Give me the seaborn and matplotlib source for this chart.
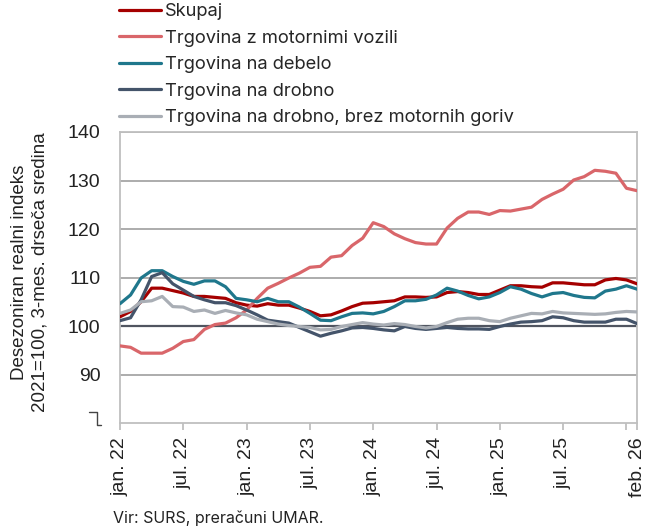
import numpy as np
import pandas as pd
import matplotlib
matplotlib.use('Agg')
import matplotlib.pyplot as plt
from matplotlib.lines import Line2D
import seaborn as sns

sns.set_style("white")
plt.rcParams['font.family'] = ['Liberation Sans', 'DejaVu Sans']

# monthly, jan 2022 .. feb 2026
months = pd.date_range("2022-01-01", "2026-02-01", freq="MS")

skupaj = [101.9, 103.0, 105.0, 107.8, 107.8, 107.3, 106.8, 106.1, 106.1, 105.9,
          105.7, 104.8, 104.3, 104.1, 104.6, 104.3, 104.3, 103.7, 103.0, 102.1,
          102.3, 103.1, 104.0, 104.7, 104.8, 105.0, 105.2, 106.0, 106.0, 105.9,
          106.0, 106.9, 107.1, 106.9, 106.5, 106.5, 107.4, 108.3, 108.3, 108.1,
          108.0, 108.9, 108.9, 108.7, 108.5, 108.5, 109.5, 109.8, 109.5, 108.7]
motorna = [95.9, 95.6, 94.4, 94.4, 94.4, 95.4, 96.8, 97.2, 99.3, 100.3,
           100.6, 101.7, 103.3, 105.7, 107.8, 108.8, 109.9, 110.9, 112.1, 112.3,
           114.2, 114.5, 116.6, 118.1, 121.3, 120.5, 119.0, 118.0, 117.2, 116.9,
           116.9, 120.2, 122.2, 123.5, 123.5, 123.0, 123.8, 123.7, 124.1, 124.5,
           126.1, 127.2, 128.2, 130.1, 130.8, 132.1, 131.9, 131.5, 128.4, 127.9]
debelo = [104.6, 106.4, 109.9, 111.4, 111.4, 110.2, 109.2, 108.6, 109.3, 109.3,
          108.1, 105.7, 105.4, 105.0, 105.7, 105.0, 105.0, 103.9, 102.6, 101.2,
          101.1, 101.9, 102.6, 102.7, 102.5, 103.0, 104.0, 105.2, 105.2, 105.5,
          106.4, 107.8, 107.2, 106.3, 105.6, 106.0, 106.9, 108.1, 107.6, 106.7,
          106.0, 106.7, 106.9, 106.3, 105.9, 105.8, 107.2, 107.6, 108.3, 107.6]
drobno = [101.1, 101.7, 105.4, 110.2, 111.0, 108.7, 107.4, 106.1, 105.4, 104.8,
          104.8, 104.2, 103.3, 102.3, 101.2, 100.9, 100.6, 99.7, 98.8, 97.9,
          98.5, 99.0, 99.6, 99.7, 99.5, 99.2, 99.0, 99.9, 99.5, 99.3,
          99.5, 99.7, 99.5, 99.4, 99.4, 99.3, 99.9, 100.4, 100.8, 100.9,
          101.1, 101.9, 101.7, 101.1, 100.8, 100.8, 100.8, 101.4, 101.4, 100.5]
drobno_brez = [102.6, 103.3, 105.0, 105.2, 106.1, 104.0, 103.9, 103.0, 103.3, 102.6,
               103.2, 102.7, 102.3, 101.4, 100.9, 100.4, 100.1, 99.9, 99.7, 99.2,
               99.3, 99.9, 100.3, 100.7, 100.4, 100.2, 100.5, 100.3, 99.9, 99.6,
               99.9, 100.7, 101.4, 101.6, 101.6, 101.1, 100.9, 101.6, 102.1, 102.6,
               102.5, 103.0, 102.7, 102.6, 102.5, 102.4, 102.5, 102.8, 103.0, 102.9]

names = ["Skupaj", "Trgovina z motornimi vozili", "Trgovina na debelo",
         "Trgovina na drobno", "Trgovina na drobno, brez motornih goriv"]
colors = ["#A50000", "#D9666A", "#1F778C", "#44546A", "#A9AEB5"]

tick_pos = [0, 6, 12, 18, 24, 30, 36, 42, 48, 49]
tick_labels = ["jan. 22", "jul. 22", "jan. 23", "jul. 23", "jan. 24",
               "jul. 24", "jan. 25", "jul. 25", "", "feb. 26"]

df = pd.DataFrame({"x": np.arange(len(months)),
                   names[0]: skupaj, names[1]: motorna, names[2]: debelo,
                   names[3]: drobno, names[4]: drobno_brez})
long = df.melt(id_vars="x", var_name="serija", value_name="vrednost")

W, H = 650, 531
fig = plt.figure(figsize=(W / 100, H / 100), dpi=100)
ax = fig.add_axes([120/W, 1 - 423/H, (637 - 120)/W, (423 - 132)/H])

# grid lines
for yv in [90, 110, 120, 130, 140]:
    ax.axhline(yv, color="#A6A6A6", lw=1.3, zorder=1)
ax.axhline(100, color="#505560", lw=1.6, zorder=1)

sns.lineplot(data=long, x="x", y="vrednost", hue="serija", hue_order=names,
             palette=colors, linewidth=2.3, legend=False, ax=ax, zorder=3)

ax.set_xlim(0, 49)
ax.set_ylim(80, 140)
ax.set_yticks([90, 100, 110, 120, 130, 140])
ax.set_xticks(tick_pos)
ax.set_xticklabels(tick_labels, rotation=90)
ax.set_xlabel("")
ax.set_ylabel("")
ax.tick_params(axis='y', length=0, pad=14, labelsize=14, labelcolor="#222222")
ax.tick_params(axis='x', length=5, width=1.3, color="#BFBFBF", pad=5,
               labelsize=14, labelcolor="#222222", bottom=True)
for s in ax.spines.values():
    s.set_color("#BFBFBF")
    s.set_linewidth(1.3)

# axis break mark below the 90 label
bx = np.array([89, 97, 97, 101]) / W
by = 1 - np.array([412, 412, 425, 425]) / H
fig.add_artist(Line2D(bx, by, transform=fig.transFigure, color="#444444", lw=1))

fig.text(30/W, 1 - 272/H,
         "Desezoniran realni indeks\n2021=100, 3-mes. drseča sredina",
         rotation=90, ha="center", va="center", multialignment="center",
         fontsize=13.5, color="#222222", linespacing=1.25)

handles = [Line2D([0], [0], color=c, lw=2.3) for c in colors]
fig.legend(handles, names, loc="upper left", bbox_to_anchor=(119/W, 1 - 3/H),
           frameon=False, handlelength=2.3, handletextpad=0.2,
           labelspacing=0.52, borderpad=0, borderaxespad=0,
           prop={"family": ["Inter", "DejaVu Sans"], "size": 13.2})

fig.text(113/W, 1 - 518/H, "Vir: SURS, preračuni UMAR.", ha="left", va="center",
         fontsize=11.5, color="#222222", family=["Inter", "DejaVu Sans"])

fig.savefig("out.png", dpi=100, facecolor="white")
